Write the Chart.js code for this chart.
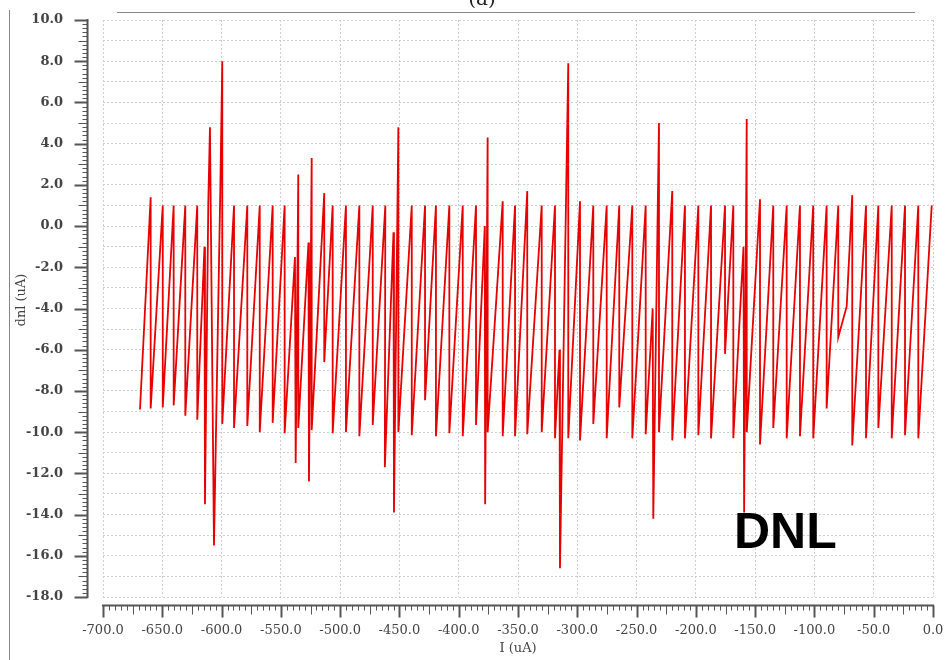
<!DOCTYPE html>
<html>
<head>
<meta charset="utf-8">
<script src="https://cdn.jsdelivr.net/npm/chart.js@4"></script>
<style>
  html, body { margin: 0; padding: 0; background: #fff; }
  canvas { display: block; }
</style>
</head>
<body>
<canvas id="dnlChart" width="946" height="660"></canvas>
<script>
// sweep vertices: output current (uA) and dnl (uA), in sweep order
const currentUA = [
  -668.8, -659.8, -659.8, -649.6, -649.6, -640.4, -640.4, -630.6, -630.6, -620.5,
  -620.5, -614.4, -614.0, -611.2, -609.8, -606.4, -601.0, -599.4, -599.4, -589.5,
  -589.5, -578.3, -578.3, -567.8, -567.8, -556.9, -556.9, -546.8, -546.8, -538.1,
  -537.5, -535.3, -535.3, -526.7, -526.3, -524.0, -524.0, -513.4, -513.4, -506.3,
  -506.3, -495.1, -495.1, -483.8, -483.8, -472.5, -472.5, -461.9, -462.3, -455.0,
  -454.6, -450.9, -450.9, -439.6, -439.6, -428.4, -428.4, -419.2, -419.2, -407.9,
  -407.9, -396.6, -396.6, -385.4, -385.4, -378.0, -377.7, -375.6, -375.6, -362.9,
  -362.9, -352.5, -352.5, -342.2, -342.2, -330.0, -330.0, -318.8, -318.8, -315.0,
  -314.6, -307.6, -307.6, -297.7, -297.7, -286.5, -286.5, -275.2, -275.2, -264.6,
  -264.6, -253.6, -253.6, -242.3, -242.3, -236.4, -235.9, -231.1, -231.1, -219.9,
  -219.9, -209.2, -209.2, -197.9, -197.9, -187.2, -187.2, -175.4, -175.4, -168.4,
  -168.4, -159.8, -159.3, -157.1, -157.1, -145.9, -145.9, -134.7, -134.7, -123.4,
  -123.4, -112.2, -112.2, -101.0, -101.0, -89.7, -89.7, -79.9, -79.9, -72.8,
  -68.1, -68.1, -56.5, -56.5, -46.1, -46.1, -34.8, -34.8, -23.6, -23.6,
  -12.4, -12.4, -1.1
];
const dnlUA = [
  -8.9, 1.4, -8.85, 1.0, -8.8, 1.0, -8.7, 1.0, -9.2, 1.0,
  -9.4, -1.0, -13.5, 1.1, 4.8, -15.5, 2.0, 8.0, -9.6, 1.0,
  -9.8, 1.0, -9.7, 1.0, -10.0, 1.0, -9.55, 1.0, -10.05, -1.5,
  -11.5, 2.5, -9.8, -0.8, -12.4, 3.3, -9.9, 1.6, -6.6, 1.0,
  -10.05, 1.0, -10.0, 1.0, -10.2, 1.0, -9.65, 1.0, -11.7, -0.3,
  -13.9, 4.8, -10.0, 1.0, -10.15, 1.0, -8.45, 1.0, -10.2, 1.0,
  -10.05, 1.0, -10.2, 1.0, -9.65, 0.0, -13.5, 4.3, -10.0, 1.2,
  -10.2, 1.0, -10.2, 1.7, -10.1, 1.0, -10.0, 1.0, -10.3, -6.0,
  -16.6, 7.9, -10.3, 1.2, -10.4, 1.0, -9.6, 1.0, -10.3, 1.0,
  -8.8, 1.0, -10.3, 1.0, -10.1, -4.0, -14.2, 5.0, -10.0, 1.7,
  -10.4, 1.0, -10.3, 1.0, -10.15, 1.0, -10.3, 1.0, -6.2, 1.0,
  -10.3, -1.0, -13.9, 5.2, -10.0, 1.3, -10.6, 1.0, -9.8, 1.0,
  -10.3, 1.0, -10.2, 1.0, -10.3, 1.0, -8.85, 1.0, -5.4, -3.9,
  1.5, -10.65, 1.0, -10.3, 1.0, -9.8, 1.0, -10.3, 1.0, -10.15,
  1.0, -10.3, 1.0
];

// axis ranges and tick spacing
const xRange = [-700, 0];
const yRange = [-18, 10];
const xLabelStep = 50;
const yLabelStep = 2;

const axisColor = '#555';
const labelColor = '#444';
const serif = '"DejaVu Serif", "Liberation Serif", serif';

// detached axes with graded tick marks, tick labels, titles and annotations
const axisDecor = {
  id: 'axisDecor',
  afterDraw(chart) {
    const { ctx, scales: { x, y } } = chart;
    ctx.save();
    ctx.strokeStyle = axisColor;

    // y axis
    const ax = 87.5;
    ctx.lineWidth = 2;
    ctx.beginPath();
    ctx.moveTo(ax, y.getPixelForValue(yRange[1]) - 1);
    ctx.lineTo(ax, y.getPixelForValue(yRange[0]) + 1);
    ctx.stroke();
    for (let k = 0; k <= (yRange[1] - yRange[0]) * 5; k++) {
      const v = yRange[0] + k * 0.2;
      const py = Math.round(y.getPixelForValue(v)) + 0.5;
      let len = 5, w = 1;
      if (k % 10 === 0) { len = 13; w = 2; } else if (k % 5 === 0) { len = 9; }
      ctx.lineWidth = w;
      ctx.beginPath();
      ctx.moveTo(ax - len, py);
      ctx.lineTo(ax, py);
      ctx.stroke();
    }
    ctx.fillStyle = labelColor;
    ctx.font = 'bold 13px ' + serif;
    ctx.textAlign = 'right';
    ctx.textBaseline = 'middle';
    for (let v = yRange[0]; v <= yRange[1]; v += yLabelStep) {
      ctx.fillText(v.toFixed(1), 63, y.getPixelForValue(v));
    }

    // x axis
    const ay = 605.5;
    ctx.lineWidth = 2;
    ctx.beginPath();
    ctx.moveTo(x.getPixelForValue(xRange[0]) - 1, ay);
    ctx.lineTo(x.getPixelForValue(xRange[1]) + 1, ay);
    ctx.stroke();
    for (let v = xRange[0]; v <= xRange[1]; v += 5) {
      const px = Math.round(x.getPixelForValue(v)) + 0.5;
      let len = 5, w = 1;
      if (v % 50 === 0) { len = 12; w = 2; } else if (v % 25 === 0) { len = 9; }
      ctx.lineWidth = w;
      ctx.beginPath();
      ctx.moveTo(px, ay);
      ctx.lineTo(px, ay + len);
      ctx.stroke();
    }
    ctx.font = '13px ' + serif;
    ctx.textAlign = 'center';
    for (let v = xRange[0]; v <= xRange[1]; v += xLabelStep) {
      ctx.fillText(v.toFixed(1), x.getPixelForValue(v), 631);
    }

    // axis titles
    ctx.fillText('I (uA)', (x.left + x.right) / 2, 649);
    ctx.save();
    ctx.translate(22, 300);
    ctx.rotate(-Math.PI / 2);
    ctx.fillText('dnl (uA)', 0, 0);
    ctx.restore();

    // label and frame
    ctx.fillStyle = '#000';
    ctx.font = 'bold 50px "Liberation Sans", Arial, sans-serif';
    ctx.textAlign = 'left';
    ctx.textBaseline = 'alphabetic';
    ctx.fillText('DNL', 734, 548);

    ctx.strokeStyle = '#888';
    ctx.lineWidth = 1;
    ctx.beginPath();
    ctx.moveTo(117, 12.5);
    ctx.lineTo(915, 12.5);
    ctx.moveTo(9.5, 10);
    ctx.lineTo(9.5, 660);
    ctx.stroke();

    ctx.fillStyle = '#222';
    ctx.font = '20px ' + serif;
    ctx.textAlign = 'center';
    ctx.fillText('(a)', 482, 5);
    ctx.restore();
  }
};

new Chart(document.getElementById('dnlChart'), {
  type: 'scatter',
  data: {
    datasets: [{
      data: currentUA.map((v, i) => ({ x: v, y: dnlUA[i] })),
      showLine: true,
      borderColor: '#e60000',
      borderWidth: 1.8,
      pointRadius: 0,
      tension: 0,
      fill: false
    }]
  },
  options: {
    responsive: false,
    animation: false,
    layout: { padding: { top: 20, right: 13, bottom: 0, left: 0 } },
    plugins: { legend: { display: false }, tooltip: { enabled: false } },
    scales: {
      x: {
        type: 'linear',
        min: xRange[0],
        max: xRange[1],
        afterFit: s => { s.height = 63; },
        grid: { color: '#cfcfcf', lineWidth: 1, drawTicks: false },
        border: { display: false, dash: [2, 2] },
        ticks: { stepSize: xLabelStep, display: false }
      },
      y: {
        type: 'linear',
        min: yRange[0],
        max: yRange[1],
        afterFit: s => { s.width = 103; },
        grid: { color: '#cfcfcf', lineWidth: 1, drawTicks: false },
        border: { display: false, dash: [2, 2] },
        ticks: { stepSize: 1, display: false }
      }
    }
  },
  plugins: [axisDecor]
});
</script>
</body>
</html>
